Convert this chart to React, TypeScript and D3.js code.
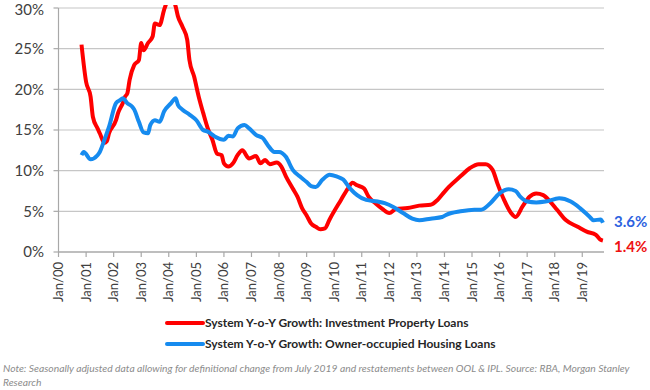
import React from 'react';
import * as d3 from 'd3';

// year-on-year growth, %
const investmentLoans: [string, number][] = [
  ['2000-11', 25.5], ['2001-01', 20.9], ['2001-03', 19.1], ['2001-04', 16.6], ['2001-06', 15.2],
  ['2001-07', 14.6], ['2001-09', 13.4], ['2001-10', 13.6], ['2001-11', 14.6], ['2002-02', 16.2],
  ['2002-03', 17.1], ['2002-05', 18.3], ['2002-06', 19.1], ['2002-07', 19.5], ['2002-08', 21.2],
  ['2002-10', 23.0], ['2002-12', 23.6], ['2003-01', 25.7], ['2003-02', 24.8], ['2003-04', 25.7],
  ['2003-06', 26.5], ['2003-07', 28.1], ['2003-09', 27.9], ['2003-11', 29.8], ['2003-12', 30.6],
  ['2004-02', 31.5], ['2004-04', 30.2], ['2004-05', 29.0], ['2004-07', 27.7], ['2004-09', 26.1],
  ['2004-10', 23.6], ['2004-12', 21.6], ['2005-02', 19.1], ['2005-04', 17.1], ['2005-06', 15.2],
  ['2005-08', 13.8], ['2005-10', 12.1], ['2005-12', 11.9], ['2006-01', 10.9], ['2006-03', 10.5],
  ['2006-05', 10.9], ['2006-07', 11.9], ['2006-09', 12.5], ['2006-12', 11.5], ['2007-03', 11.8],
  ['2007-05', 10.9], ['2007-07', 11.3], ['2007-09', 10.8], ['2007-12', 11.0], ['2008-02', 10.5],
  ['2008-04', 9.3], ['2008-07', 7.8], ['2008-09', 6.8], ['2008-11', 5.4], ['2009-01', 4.5],
  ['2009-03', 3.5], ['2009-05', 3.1], ['2009-07', 2.8], ['2009-09', 2.9], ['2009-11', 4.0],
  ['2010-04', 6.4], ['2010-07', 7.8], ['2010-09', 8.5], ['2010-11', 8.2], ['2011-02', 7.8],
  ['2011-04', 6.8], ['2011-07', 6.0], ['2011-10', 5.3], ['2012-01', 4.8], ['2012-04', 5.3],
  ['2012-09', 5.4], ['2013-02', 5.7], ['2013-07', 5.8], ['2013-10', 6.4], ['2014-01', 7.4],
  ['2014-03', 8.0], ['2014-08', 9.3], ['2014-12', 10.3], ['2015-04', 10.8], ['2015-07', 10.8],
  ['2015-10', 10.1], ['2015-12', 8.5], ['2016-03', 6.4], ['2016-06', 4.8], ['2016-08', 4.3],
  ['2016-11', 5.6], ['2017-02', 6.8], ['2017-05', 7.2], ['2017-08', 7.0], ['2017-11', 6.2],
  ['2018-02', 5.2], ['2018-06', 3.9], ['2018-11', 3.1], ['2019-03', 2.5], ['2019-07', 2.1],
  ['2019-09', 1.5], ['2019-10', 1.4],
];

const ownerOccupiedLoans: [string, number][] = [
  ['2000-11', 11.9], ['2000-12', 12.3], ['2001-03', 11.4], ['2001-06', 11.9], ['2001-07', 12.3],
  ['2001-09', 13.8], ['2001-11', 15.4], ['2002-02', 18.3], ['2002-04', 18.7], ['2002-05', 18.9],
  ['2002-07', 18.3], ['2002-09', 17.9], ['2002-10', 17.5], ['2002-12', 16.0], ['2003-02', 14.7],
  ['2003-04', 14.6], ['2003-05', 15.6], ['2003-07', 16.2], ['2003-09', 16.0], ['2003-11', 17.3],
  ['2004-02', 18.3], ['2004-04', 18.9], ['2004-05', 18.1], ['2004-07', 17.5], ['2004-10', 16.9],
  ['2005-01', 16.2], ['2005-04', 15.0], ['2005-06', 14.8], ['2005-09', 14.2], ['2006-01', 13.8],
  ['2006-03', 14.3], ['2006-05', 14.2], ['2006-07', 15.2], ['2006-10', 15.6], ['2006-12', 15.2],
  ['2007-03', 14.4], ['2007-06', 14.0], ['2007-08', 13.2], ['2007-11', 12.3], ['2008-01', 12.3],
  ['2008-04', 11.7], ['2008-07', 10.1], ['2008-10', 9.3], ['2009-01', 8.6], ['2009-03', 8.1],
  ['2009-05', 8.0], ['2009-08', 8.9], ['2009-11', 9.5], ['2010-02', 9.3], ['2010-05', 8.9],
  ['2010-08', 7.8], ['2010-11', 7.0], ['2011-03', 6.4], ['2011-08', 6.2], ['2011-11', 6.0],
  ['2012-03', 5.5], ['2012-07', 4.8], ['2012-11', 4.1], ['2013-02', 3.9], ['2013-07', 4.1],
  ['2013-12', 4.3], ['2014-02', 4.6], ['2014-08', 5.0], ['2015-02', 5.2], ['2015-05', 5.2],
  ['2015-09', 6.0], ['2016-01', 7.2], ['2016-05', 7.7], ['2016-08', 7.5], ['2016-10', 6.8],
  ['2017-01', 6.2], ['2017-05', 6.1], ['2017-09', 6.2], ['2018-03', 6.6], ['2018-08', 6.2],
  ['2018-12', 5.4], ['2019-04', 4.4], ['2019-06', 3.9], ['2019-09', 4.0], ['2019-10', 3.6],
];

const yTicks = [0, 5, 10, 15, 20, 25, 30];
const xTickYears = d3.range(2000, 2020);

const legendLabels = [
  'System Y-o-Y Growth: Investment Property Loans',
  'System Y-o-Y Growth: Owner-occupied Housing Loans',
];
const endLabels = ['1.4%', '3.6%'];
const note =
  'Note: Seasonally adjusted data allowing for definitional change from July 2019 and restatements between OOL & IPL. Source: RBA, Morgan Stanley';
const note2 = 'Research';

const RED = '#ff0000';
const BLUE = '#168bef';
const GRID = '#c6c6c6';
const FONT = 'Lato, "Open Sans", sans-serif';

const parse = d3.timeParse('%Y-%m');

export default function App() {
  const x = d3
    .scaleTime()
    .domain([new Date(2000, 0, 1), new Date(2019, 9, 16)])
    .range([58.5, 604]);
  const y = d3.scaleLinear().domain([0, 30]).range([252, 8]);

  const line = d3
    .line<[string, number]>()
    .x((d) => x(parse(d[0]) as Date))
    .y((d) => y(d[1]))
    .curve(d3.curveMonotoneX);

  const series = [
    { data: investmentLoans, color: RED, label: legendLabels[0], end: endLabels[0], endColor: '#ee1111' },
    { data: ownerOccupiedLoans, color: BLUE, label: legendLabels[1], end: endLabels[1], endColor: '#2d62e0' },
  ];

  const fmt = d3.timeFormat('%b/%y');

  return (
    <svg
      width={650}
      height={390}
      style={{ position: 'absolute', left: 0, top: 0, background: '#fff' }}
      fontFamily={FONT}
    >
      <defs>
        <clipPath id="plot">
          <rect x={56} y={5} width={555} height={256} />
        </clipPath>
      </defs>

      {/* gridlines + y labels */}
      {yTicks.map((t) => (
        <g key={t}>
          {t > 0 && <line x1={x.range()[0]} x2={x.range()[1]} y1={y(t)} y2={y(t)} stroke={GRID} strokeWidth={1.2} />}
          <line x1={x.range()[0] - 5} x2={x.range()[0]} y1={y(t)} y2={y(t)} stroke="#a8a8a8" strokeWidth={1.2} />
          <text x={44} y={Math.max(y(t), 10)} dy="0.35em" textAnchor="end" fontSize={15} fill="#404040">
            {t}%
          </text>
        </g>
      ))}

      {/* axes */}
      <line x1={x.range()[0]} x2={x.range()[0]} y1={y(30)} y2={y(0)} stroke="#a8a8a8" strokeWidth={1.2} />
      <line x1={x.range()[0]} x2={x.range()[1]} y1={y(0)} y2={y(0)} stroke="#a8a8a8" strokeWidth={1.5} />

      {xTickYears.map((yr) => {
        const px = x(new Date(yr, 0, 1));
        return (
          <g key={yr}>
            <line x1={px} x2={px} y1={y(0)} y2={y(0) + 5} stroke="#a8a8a8" strokeWidth={1.2} />
            <text
              transform={`translate(${px},${y(0) + 10}) rotate(-90)`}
              textAnchor="end"
              dy="0.35em"
              fontSize={13}
              fill="#404040"
            >
              {fmt(new Date(yr, 0, 1))}
            </text>
          </g>
        );
      })}

      {/* lines */}
      <g clipPath="url(#plot)">
        {series.map((s) => (
          <path key={s.label} d={line(s.data) || ''} fill="none" stroke={s.color} strokeWidth={4} strokeLinejoin="round" />
        ))}
      </g>

      {/* end labels */}
      {series.map((s) => {
        const last = s.data[s.data.length - 1];
        return (
          <text
            key={s.end}
            x={614}
            y={y(last[1]) + (s.color === RED ? 6 : -1)}
            dy="0.35em"
            fontSize={15}
            fontWeight="bold"
            fill={s.endColor}
          >
            {s.end}
          </text>
        );
      })}

      {/* legend */}
      {series.map((s, i) => (
        <g key={s.label} transform={`translate(0,${323 + i * 21})`}>
          <line x1={167} x2={203} y1={0} y2={0} stroke={s.color} strokeWidth={4} strokeLinecap="round" />
          <text x={205} y={0} dy="0.35em" fontSize={12} fontWeight="bold" fill="#262626">
            {s.label}
          </text>
        </g>
      ))}

      {/* note */}
      <text x={3} y={372} fontSize={10.3} fontStyle="italic" fill="#8c8c8c">
        {note}
      </text>
      <text x={3} y={386} fontSize={10.3} fontStyle="italic" fill="#8c8c8c">
        {note2}
      </text>
    </svg>
  );
}
